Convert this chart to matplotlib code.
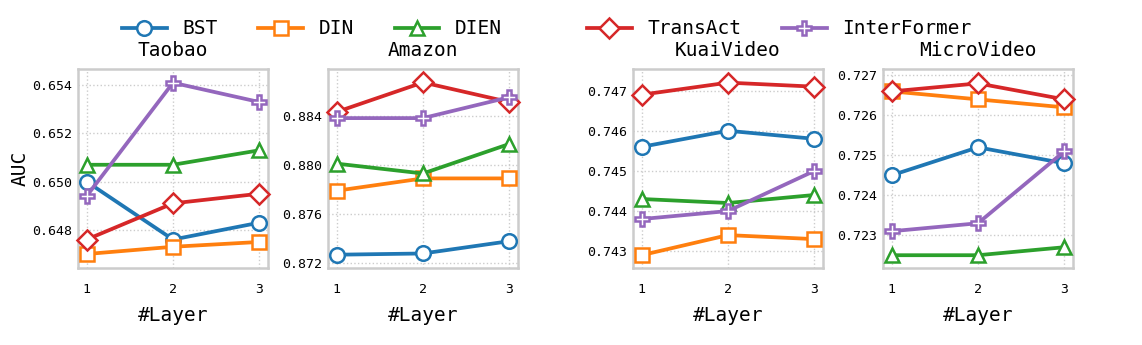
import numpy as np
import matplotlib
matplotlib.use("Agg")
import matplotlib.pyplot as plt

# data
layers = [1, 2, 3]
datasets = ["Taobao", "Amazon", "KuaiVideo", "MicroVideo"]
models = ["BST", "DIN", "DIEN", "TransAct", "InterFormer"]

taobao = {
    "BST": [0.6500, 0.6476, 0.6483],
    "DIN": [0.6470, 0.6473, 0.6475],
    "DIEN": [0.6507, 0.6507, 0.6513],
    "TransAct": [0.6476, 0.6491, 0.6495],
    "InterFormer": [0.6494, 0.6541, 0.6533],
}
amazon = {
    "BST": [0.8727, 0.8728, 0.8738],
    "DIN": [0.8779, 0.8789, 0.8789],
    "DIEN": [0.8801, 0.8793, 0.8817],
    "TransAct": [0.8843, 0.8867, 0.8851],
    "InterFormer": [0.8838, 0.8838, 0.8855],
}
kuaivideo = {
    "BST": [0.7456, 0.7460, 0.7458],
    "DIN": [0.7429, 0.7434, 0.7433],
    "DIEN": [0.7443, 0.7442, 0.7444],
    "TransAct": [0.7469, 0.7472, 0.7471],
    "InterFormer": [0.7438, 0.7440, 0.7450],
}
microvideo = {
    "BST": [0.7245, 0.7252, 0.7248],
    "DIN": [0.7266, 0.7264, 0.7262],
    "DIEN": [0.7225, 0.7225, 0.7227],
    "TransAct": [0.7266, 0.7268, 0.7264],
    "InterFormer": [0.7231, 0.7233, 0.7251],
}
all_data = [taobao, amazon, kuaivideo, microvideo]

y_ticks = [
    [0.648, 0.650, 0.652, 0.654],
    [0.872, 0.876, 0.880, 0.884],
    [0.743, 0.744, 0.745, 0.746, 0.747],
    [0.723, 0.724, 0.725, 0.726, 0.727],
]
y_lims = [
    (0.64642, 0.65467),
    (0.87162, 0.88779),
    (0.74258, 0.74754),
    (0.72218, 0.72716),
]

colors = ["#1f77b4", "#ff7f0e", "#2ca02c", "#d62728", "#9467bd"]
markers = ["o", "s", "^", "D", "P"]

plt.rcParams["font.family"] = ["DejaVu Sans Mono"]

fig = plt.figure(figsize=(11.42, 3.45), dpi=100)
W, H = 1142.0, 345.0
lefts = [78, 328, 633, 883]
ax_w, top, bottom = 190, 69, 268

handles = []
for i, (name, data) in enumerate(zip(datasets, all_data)):
    ax = fig.add_axes([lefts[i] / W, 1 - bottom / H, ax_w / W, (bottom - top) / H])
    for j, m in enumerate(models):
        (h,) = ax.plot(
            layers, data[m],
            color=colors[j], lw=2.7, marker=markers[j], markersize=10.5,
            markerfacecolor="white", markeredgecolor=colors[j], markeredgewidth=1.8,
            label=m, zorder=3, clip_on=False,
        )
        if i == 0:
            handles.append(h)
    ax.set_xlim(0.9, 3.1)
    ax.set_ylim(*y_lims[i])
    ax.set_xticks(layers)
    ax.set_yticks(y_ticks[i])
    ax.set_yticklabels(["%.3f" % t for t in y_ticks[i]])
    ax.tick_params(length=0, labelsize=9.5)
    ax.tick_params(axis="x", pad=11)
    ax.tick_params(axis="y", pad=4)
    ax.grid(True, linestyle=":", color="#cccccc", lw=1.0)
    for s in ax.spines.values():
        s.set_color("#cccccc")
        s.set_linewidth(1.8)
    ax.set_title(name, fontsize=14, pad=9)
    ax.set_xlabel("#Layer", fontsize=14, labelpad=7)
    if i == 0:
        ax.set_ylabel("AUC", fontsize=14, labelpad=2)

leg_kw = dict(
    loc="center left", ncol=3, frameon=False, fontsize=14, handlelength=2.3,
    columnspacing=2.1, handletextpad=0.8, borderaxespad=0, borderpad=0,
)
leg1 = fig.legend(handles[:3], models[:3], bbox_to_anchor=(122 / W, 1 - 29 / H), **leg_kw)
leg_kw["ncol"] = 2
leg2 = fig.legend(handles[3:], models[3:], bbox_to_anchor=(587 / W, 1 - 29 / H), **leg_kw)

fig.savefig("out.png", dpi=100)
